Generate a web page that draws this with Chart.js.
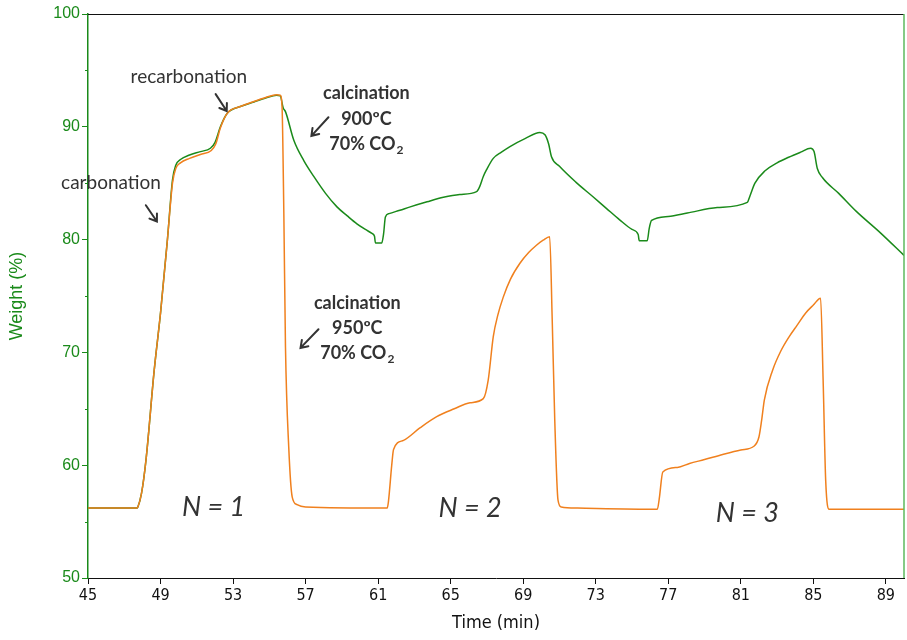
<!DOCTYPE html>
<html>
<head>
<meta charset="utf-8">
<script src="https://cdn.jsdelivr.net/npm/chart.js@4"></script>
<style>
  html, body { margin: 0; padding: 0; background: #fff; }
  #wrap { width: 907px; height: 640px; }
</style>
</head>
<body>
<div id="wrap"><canvas id="grafica"></canvas></div>
<script>
// tick labels
const xTicks = [45, 49, 53, 57, 61, 65, 69, 73, 77, 81, 85, 89];
const yTicks = [50, 60, 70, 80, 90, 100];
const yMinor = [55, 65, 75, 85, 95];

// green series (900ºC)
const greenTime = [45.0, 47.7, 47.75, 47.95, 48.2, 48.65, 49.0, 49.38, 49.66, 49.84, 50.1, 50.6, 51.2, 51.75, 52.0,
  52.3, 52.68, 53.4, 54.15, 54.8, 55.4, 55.6, 55.76, 55.9, 56.35, 56.9, 57.45, 58.1, 58.73, 59.3, 59.83, 60.3,
  60.66, 60.8, 60.85, 61.2, 61.3, 61.4, 61.6, 62.2, 62.77, 63.7, 64.6, 65.5, 66.43, 66.6, 66.8, 66.98, 67.35,
  67.8, 68.27, 69.1, 69.92, 70.2, 70.4, 70.56, 71.0, 71.9, 72.85, 73.6, 74.32, 75.0, 75.34, 75.4, 75.84, 75.95,
  76.08, 77.0, 78.05, 79.7, 81.36, 81.5, 81.78, 82.34, 83.0, 83.64, 84.3, 84.85, 85.04, 85.22, 85.5, 86.4,
  87.37, 88.7, 90.0];
const greenWeight = [56.2, 56.2, 56.3, 57.5, 60.5, 68.4, 73.5, 80.0, 85.3, 86.6, 87.1, 87.5, 87.8, 88.1, 88.6,
  90.0, 91.2, 91.8, 92.2, 92.55, 92.8, 92.75, 91.7, 91.3, 88.8, 87.0, 85.6, 84.1, 82.9, 82.1, 81.4, 80.9,
  80.55, 80.3, 79.7, 79.7, 80.5, 82.0, 82.3, 82.6, 82.9, 83.35, 83.75, 84.0, 84.25, 84.7, 85.6, 86.2, 87.2,
  87.75, 88.25, 88.95, 89.5, 89.3, 88.5, 87.35, 86.5, 85.1, 83.8, 82.75, 81.75, 80.9, 80.45, 79.9, 79.9, 81.0,
  81.7, 82.05, 82.35, 82.85, 83.3, 83.85, 85.0, 86.1, 86.8, 87.3, 87.75, 88.1, 87.8, 86.3, 85.5, 84.1,
  82.5, 80.6, 78.6];

// orange series (950ºC)
const orangeTime = [45.0, 47.7, 47.75, 47.95, 48.2, 48.65, 49.0, 49.38, 49.66, 49.84, 50.1, 50.6, 51.2, 51.8,
  52.05, 52.3, 52.68, 53.4, 54.15, 54.8, 55.4, 55.6, 55.7, 55.8, 55.89, 56.07, 56.26, 56.53, 57.0, 61.5, 61.57,
  61.75, 61.85, 62.4, 63.3, 64.23, 65.2, 66.07, 66.8, 67.07, 67.35, 67.6, 67.9, 68.3, 68.82, 69.3, 69.73,
  70.1, 70.46, 70.6, 70.74, 70.92, 71.1, 72.0, 76.4, 76.5, 76.7, 77.5, 78.17, 79.0, 80.0, 81.0, 81.74, 82.0,
  82.15, 82.3, 82.75, 83.2, 83.67, 84.1, 84.58, 85.0, 85.4, 85.54, 85.68, 85.87, 87.0, 90.0];
const orangeWeight = [56.2, 56.2, 56.3, 57.5, 60.5, 68.4, 73.5, 80.0, 85.0, 86.3, 86.8, 87.2, 87.55, 87.9,
  88.5, 89.9, 91.2, 91.8, 92.25, 92.6, 92.85, 92.8, 91.8, 82.3, 70.5, 61.6, 57.2, 56.5, 56.3, 56.2, 56.8,
  60.0, 61.4, 62.2, 63.3, 64.3, 65.0, 65.54, 65.9, 67.55, 71.4, 73.3, 74.9, 76.5, 77.9, 78.85, 79.5,
  79.95, 80.26, 72.9, 64.0, 56.9, 56.3, 56.2, 56.1, 57.0, 59.4, 59.8, 60.15, 60.5, 60.95, 61.35, 61.7, 62.5,
  64.0, 65.8, 68.4, 70.1, 71.4, 72.4, 73.5, 74.2, 74.8, 67.55, 58.7, 56.1, 56.1, 56.1];

const verde = '#1a8a1a';
const naranja = '#f0801e';
const gris = '#333333';

// notes, placed in data units
const notas = [
  { text: 'recarbonation', t: 50.56, w: 94.4, font: '19px Lato' },
  { text: 'carbonation', t: 46.27, w: 85.0, font: '19px Lato' },
  { text: 'calcination', t: 60.35, w: 93.0, font: 'bold 18px Lato' },
  { text: '900ºC', t: 60.35, w: 90.7, font: 'bold 18px Lato' },
  { text: '70% CO', sub: '2', t: 60.35, w: 88.5, font: 'bold 18px Lato' },
  { text: 'calcination', t: 59.85, w: 74.4, font: 'bold 18px Lato' },
  { text: '950ºC', t: 59.85, w: 72.15, font: 'bold 18px Lato' },
  { text: '70% CO', sub: '2', t: 59.85, w: 69.95, font: 'bold 18px Lato' },
  { text: 'N = 1', t: 51.93, w: 56.3, font: 'italic 27px Lato' },
  { text: 'N = 2', t: 66.07, w: 56.2, font: 'italic 27px Lato' },
  { text: 'N = 3', t: 81.36, w: 55.75, font: 'italic 27px Lato' }
];
const flechas = [
  [52.04, 92.9, 52.65, 91.4],
  [48.19, 83.05, 48.8, 81.6],
  [58.26, 90.85, 57.32, 89.2],
  [57.71, 72.05, 56.72, 70.4]
];

function puntos(ts, ws) {
  return ts.map(function (t, i) { return { x: t, y: ws[i] }; });
}

const extras = {
  id: 'extras',
  afterDraw: function (chart) {
    const ctx = chart.ctx;
    const a = chart.chartArea;
    const sx = chart.scales.x, sy = chart.scales.y;
    ctx.save();
    // top and right frame
    ctx.lineWidth = 1;
    ctx.strokeStyle = '#111';
    ctx.beginPath();
    ctx.moveTo(a.left, a.top + 0.5);
    ctx.lineTo(a.right, a.top + 0.5);
    ctx.stroke();
    ctx.strokeStyle = '#5cb85c';
    ctx.lineWidth = 1.5;
    ctx.beginPath();
    ctx.moveTo(a.right, a.top);
    ctx.lineTo(a.right, a.bottom);
    ctx.stroke();
    // minor ticks on y
    ctx.strokeStyle = verde;
    ctx.lineWidth = 1;
    yMinor.forEach(function (v) {
      const py = Math.round(sy.getPixelForValue(v)) + 0.5;
      ctx.beginPath();
      ctx.moveTo(a.left - 3, py);
      ctx.lineTo(a.left, py);
      ctx.stroke();
    });
    // notes
    ctx.fillStyle = gris;
    ctx.textBaseline = 'middle';
    notas.forEach(function (n) {
      const px = sx.getPixelForValue(n.t);
      const py = sy.getPixelForValue(n.w);
      ctx.font = n.font;
      const w1 = ctx.measureText(n.text).width;
      let w2 = 0;
      if (n.sub) {
        ctx.font = 'bold 12px Lato';
        w2 = ctx.measureText(n.sub).width + 1;
      }
      const x0 = px - (w1 + w2) / 2;
      ctx.font = n.font;
      ctx.textAlign = 'left';
      ctx.fillText(n.text, x0, py);
      if (n.sub) {
        ctx.font = 'bold 12px Lato';
        ctx.fillText(n.sub, x0 + w1 + 1, py + 6);
      }
    });
    // arrows
    ctx.strokeStyle = gris;
    ctx.lineWidth = 2;
    ctx.lineCap = 'round';
    flechas.forEach(function (f) {
      const x1 = sx.getPixelForValue(f[0]), y1 = sy.getPixelForValue(f[1]);
      const x2 = sx.getPixelForValue(f[2]), y2 = sy.getPixelForValue(f[3]);
      const ang = Math.atan2(y2 - y1, x2 - x1);
      const h = 8;
      ctx.beginPath();
      ctx.moveTo(x1, y1);
      ctx.lineTo(x2, y2);
      ctx.moveTo(x2 - h * Math.cos(ang - 0.6), y2 - h * Math.sin(ang - 0.6));
      ctx.lineTo(x2, y2);
      ctx.lineTo(x2 - h * Math.cos(ang + 0.6), y2 - h * Math.sin(ang + 0.6));
      ctx.stroke();
    });
    ctx.restore();
  }
};

document.addEventListener("DOMContentLoaded", function () {
  const micanvas = document.getElementById("grafica").getContext("2d");

  new Chart(micanvas, {
    type: "line",
    data: {
      datasets: [
        {
          label: '950ºC',
          data: puntos(orangeTime, orangeWeight),
          borderColor: naranja,
          borderWidth: 1.5,
          pointRadius: 0,
          cubicInterpolationMode: 'monotone'
        },
        {
          label: '900ºC',
          data: puntos(greenTime, greenWeight),
          borderColor: verde,
          borderWidth: 1.5,
          pointRadius: 0,
          cubicInterpolationMode: 'monotone'
        }
      ]
    },
    options: {
      responsive: true,
      maintainAspectRatio: false,
      animation: false,
      layout: { padding: { top: 14, right: 3, left: 0, bottom: 0 } },
      plugins: {
        legend: { display: false },
        tooltip: { enabled: false }
      },
      scales: {
        x: {
          type: 'linear',
          min: 45,
          max: 90,
          afterBuildTicks: function (s) {
            s.ticks = xTicks.map(function (v) { return { value: v }; });
          },
          afterFit: function (s) { s.height = 62; },
          ticks: {
            color: '#111',
            font: { family: '"Liberation Sans Narrow", "DejaVu Sans Condensed", sans-serif', size: 16 },
            padding: 2,
            maxRotation: 0,
            autoSkip: false
          },
          grid: { drawOnChartArea: false, tickLength: 6, color: '#111' },
          border: { color: '#111', width: 1 },
          title: {
            display: true,
            text: 'Time (min)',
            color: '#111',
            font: { family: '"Liberation Sans Narrow", "DejaVu Sans Condensed", sans-serif', size: 18 },
            padding: { top: 4, bottom: 6 }
          }
        },
        y: {
          min: 50,
          max: 100,
          afterBuildTicks: function (s) {
            s.ticks = yTicks.map(function (v) { return { value: v }; });
          },
          afterFit: function (s) { s.width = 88; },
          ticks: {
            color: verde,
            font: { family: '"Liberation Sans", Arial, sans-serif', size: 16 },
            padding: 2
          },
          grid: { drawOnChartArea: false, tickLength: 6, color: verde },
          border: { color: verde, width: 1.5 },
          title: {
            display: true,
            text: 'Weight (%)',
            color: verde,
            font: { family: '"Liberation Sans", Arial, sans-serif', size: 18 },
            padding: { top: 6, bottom: 4 }
          }
        }
      }
    },
    plugins: [extras]
  });
});
</script>
</body>
</html>
